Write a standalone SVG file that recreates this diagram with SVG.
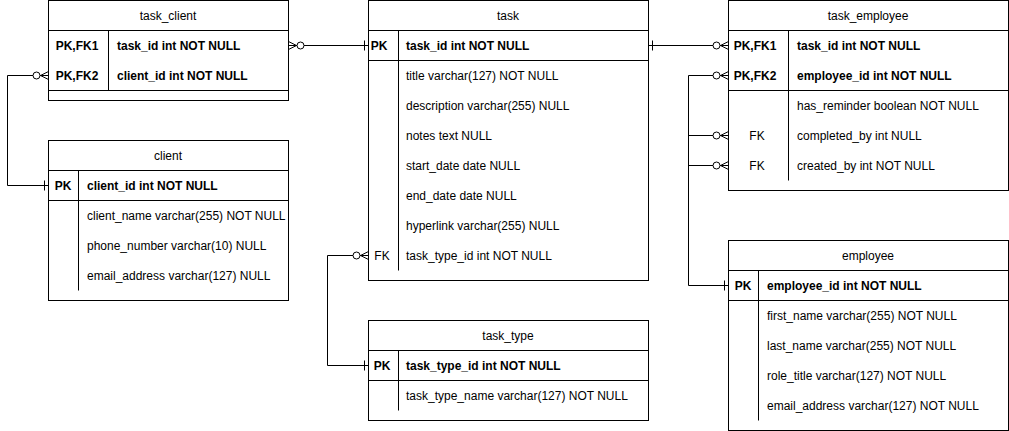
<svg xmlns="http://www.w3.org/2000/svg" width="1009" height="431" viewBox="0 0 1009 431">
<style>
.box{fill:#fff;stroke:#000;stroke-width:1}
.ln{fill:none;stroke:#000;stroke-width:1}
text{font-family:"Liberation Sans",Arial,sans-serif;font-size:12px;fill:#000}
.h{font-weight:normal;text-anchor:middle}
.k{text-anchor:middle}
.b{font-weight:bold}
.c{fill:#fff;stroke:#000;stroke-width:1}
</style>
<g id="connectors">
<path class="ln" d="M288.5,45.5 H368.5"/>
<path class="ln" d="M288.5,41.5 L296.5,45.5 L288.5,49.5 M288.5,45.5 H296.5"/>
<circle class="c" cx="300.5" cy="45.5" r="3.5"/>
<path class="ln" d="M364.5,40.5 V50.5"/>
<path class="ln" d="M48.5,75.5 H7.5 V185.5 H48.5"/>
<path class="ln" d="M48.5,71.5 L40.5,75.5 L48.5,79.5 M48.5,75.5 H40.5"/>
<circle class="c" cx="36.5" cy="75.5" r="3.5"/>
<path class="ln" d="M44.5,180.5 V190.5"/>
<path class="ln" d="M648.5,45.5 H728.5"/>
<path class="ln" d="M652.5,40.5 V50.5"/>
<path class="ln" d="M728.5,41.5 L720.5,45.5 L728.5,49.5 M728.5,45.5 H720.5"/>
<circle class="c" cx="716.5" cy="45.5" r="3.5"/>
<path class="ln" d="M728.5,285.5 H688.5 V75.5 H728.5 M688.5,135.5 H728.5 M688.5,165.5 H728.5"/>
<path class="ln" d="M724.5,280.5 V290.5"/>
<path class="ln" d="M728.5,71.5 L720.5,75.5 L728.5,79.5 M728.5,75.5 H720.5"/>
<circle class="c" cx="716.5" cy="75.5" r="3.5"/>
<path class="ln" d="M728.5,131.5 L720.5,135.5 L728.5,139.5 M728.5,135.5 H720.5"/>
<circle class="c" cx="716.5" cy="135.5" r="3.5"/>
<path class="ln" d="M728.5,161.5 L720.5,165.5 L728.5,169.5 M728.5,165.5 H720.5"/>
<circle class="c" cx="716.5" cy="165.5" r="3.5"/>
<path class="ln" d="M368.5,255.5 H327.5 V365.5 H368.5"/>
<path class="ln" d="M368.5,251.5 L360.5,255.5 L368.5,259.5 M368.5,255.5 H360.5"/>
<circle class="c" cx="356.5" cy="255.5" r="3.5"/>
<path class="ln" d="M364.5,360.5 V370.5"/>
</g>
<g id="task_client">
<rect class="box" x="48.5" y="0.5" width="240" height="100"/>
<path class="ln" d="M48.5,30.5 H288.5 M48.5,90.5 H288.5 M108.5,30.5 V90.5"/>
<text class="h" x="168" y="20">task_client</text>
<text class="k b" x="77" y="50">PK,FK1</text>
<text class="b" x="117" y="50">task_id int NOT NULL</text>
<text class="k b" x="77" y="80">PK,FK2</text>
<text class="b" x="117" y="80">client_id int NOT NULL</text>
</g>
<g id="client">
<rect class="box" x="48.5" y="140.5" width="240" height="160"/>
<path class="ln" d="M48.5,170.5 H288.5 M48.5,200.5 H288.5 M78.5,170.5 V290.5"/>
<text class="h" x="168" y="160">client</text>
<text class="k b" x="63" y="190">PK</text>
<text class="b" x="87" y="190">client_id int NOT NULL</text>
<text x="87" y="220">client_name varchar(255) NOT NULL</text>
<text x="87" y="250">phone_number varchar(10) NULL</text>
<text x="87" y="280">email_address varchar(127) NULL</text>
</g>
<g id="task">
<rect class="box" x="368.5" y="0.5" width="280" height="280"/>
<path class="ln" d="M368.5,30.5 H648.5 M368.5,60.5 H648.5 M398.5,30.5 V270.5"/>
<text class="h" x="508" y="20">task</text>
<text class="k b" x="379" y="50">PK</text>
<text class="b" x="406" y="50">task_id int NOT NULL</text>
<text x="406" y="80">title varchar(127) NOT NULL</text>
<text x="406" y="110">description varchar(255) NULL</text>
<text x="406" y="140">notes text NULL</text>
<text x="406" y="170">start_date date NULL</text>
<text x="406" y="200">end_date date NULL</text>
<text x="406" y="230">hyperlink varchar(255) NULL</text>
<text class="k" x="382" y="260">FK</text>
<text x="406" y="260">task_type_id int NOT NULL</text>
</g>
<g id="task_type">
<rect class="box" x="368.5" y="320.5" width="280" height="100"/>
<path class="ln" d="M368.5,350.5 H648.5 M368.5,380.5 H648.5 M398.5,350.5 V410.5"/>
<text class="h" x="508" y="340">task_type</text>
<text class="k b" x="382" y="370">PK</text>
<text class="b" x="406" y="370">task_type_id int NOT NULL</text>
<text x="406" y="400">task_type_name varchar(127) NOT NULL</text>
</g>
<g id="task_employee">
<rect class="box" x="728.5" y="0.5" width="280" height="190"/>
<path class="ln" d="M728.5,30.5 H1008.5 M728.5,90.5 H1008.5 M788.5,30.5 V180.5"/>
<text class="h" x="868" y="20">task_employee</text>
<text class="k b" x="755" y="50">PK,FK1</text>
<text class="b" x="797" y="50">task_id int NOT NULL</text>
<text class="k b" x="755" y="80">PK,FK2</text>
<text class="b" x="797" y="80">employee_id int NOT NULL</text>
<text x="797" y="110">has_reminder boolean NOT NULL</text>
<text class="k" x="757" y="140">FK</text>
<text x="797" y="140">completed_by int NULL</text>
<text class="k" x="757" y="170">FK</text>
<text x="797" y="170">created_by int NOT NULL</text>
</g>
<g id="employee">
<rect class="box" x="728.5" y="240.5" width="280" height="190"/>
<path class="ln" d="M728.5,270.5 H1008.5 M728.5,300.5 H1008.5 M758.5,270.5 V420.5"/>
<text class="h" x="868" y="260">employee</text>
<text class="k b" x="743" y="290">PK</text>
<text class="b" x="767" y="290">employee_id int NOT NULL</text>
<text x="767" y="320">first_name varchar(255) NOT NULL</text>
<text x="767" y="350">last_name varchar(255) NOT NULL</text>
<text x="767" y="380">role_title varchar(127) NOT NULL</text>
<text x="767" y="410">email_address varchar(127) NOT NULL</text>
</g>
</svg>
